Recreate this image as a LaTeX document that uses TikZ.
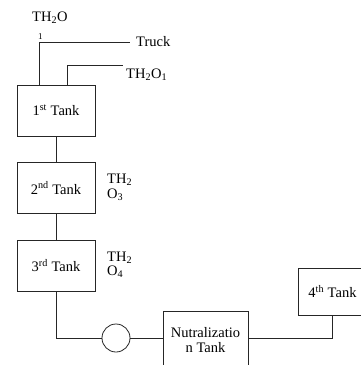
\documentclass[tikz,border=0pt]{standalone}
\usepackage{fontspec}
\setmainfont{Liberation Serif}
\begin{document}
\begin{tikzpicture}[x=1pt,y=-1pt,
  every node/.style={font=\fontsize{14.5}{16}\selectfont},
  conn/.style={draw=black!85, line width=0.8pt},
  tankbox/.style={draw=black!85, line width=0.8pt, rectangle, minimum width=78pt, minimum height=51pt, inner sep=0pt},
  txt/.style={inner sep=0pt},
  small/.style={inner sep=0pt, font=\fontsize{9}{10}\selectfont}]
\useasboundingbox (0,0) rectangle (361,365);
\clip (0,0) rectangle (361,365);
% tanks
\node[tankbox] (t1) at (56,110.5) {1\textsuperscript{st} Tank};
\node[tankbox] (t2) at (56,188) {2\textsuperscript{nd} Tank};
\node[tankbox] (t3) at (56,265.5) {3\textsuperscript{rd} Tank};
\node[draw=black!85, line width=0.8pt, circle, minimum size=28pt, inner sep=0pt] (pump) at (116,338) {};
\node[tankbox, minimum width=85pt, minimum height=58pt, align=center] (neut) at (205.5,340) {Nutralizatio\\[-1pt]n Tank};
\node[tankbox, minimum width=69pt, minimum height=47pt] (t4) at (332.5,291.5) {4\textsuperscript{th} Tank};
% labels
\node[txt, anchor=base west] (th2o) at (32,21) {TH\textsubscript{2}O};
\node[small, anchor=base west] (th2osub) at (38,39) {1};
\node[txt, anchor=west] (truck) at (136,42) {Truck};
\coordinate (truckend) at (130,42);
\node[txt, anchor=base west] (o1) at (126,78) {TH\textsubscript{2}O\textsubscript{1}};
\coordinate (o1end) at (123,65);
\node[txt, anchor=base west] (l3a) at (107,183) {TH\textsubscript{2}};
\node[txt, anchor=base west] (l3b) at (107,198) {O\textsubscript{3}};
\node[txt, anchor=base west] (l4a) at (107,261) {TH\textsubscript{2}};
\node[txt, anchor=base west] (l4b) at (107,275) {O\textsubscript{4}};
% connectors
\draw[conn] ([xshift=-17pt]t1.north) |- (truckend);
\draw[conn] ([xshift=11pt]t1.north) |- (o1end);
\draw[conn] (t1.south) -- (t2.north);
\draw[conn] (t2.south) -- (t3.north);
\draw[conn] (t3.south) |- (pump.west);
\draw[conn] (pump.east) -- (pump.east -| neut.west);
\draw[conn] (pump.east -| neut.east) -| (t4.south);
\end{tikzpicture}
\end{document}
